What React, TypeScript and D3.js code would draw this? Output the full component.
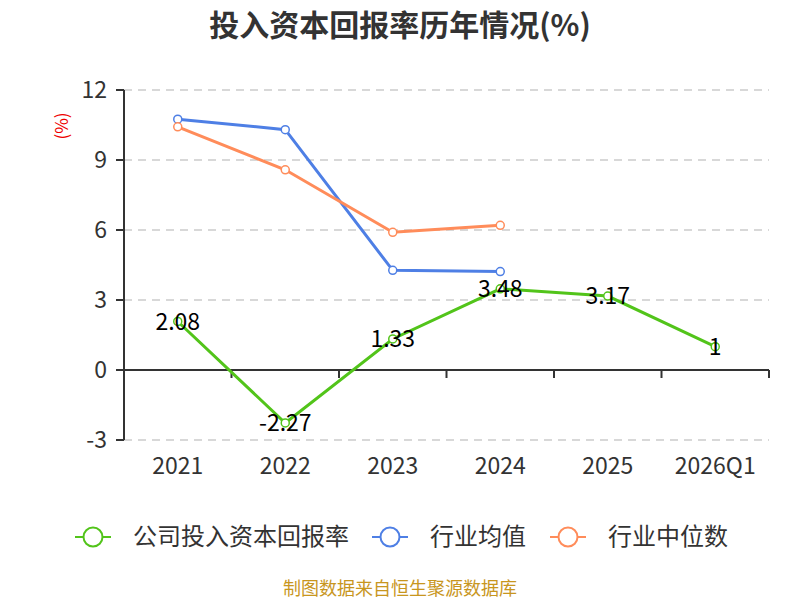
import React from "react";
import * as d3 from "d3";

const categories = ["2021", "2022", "2023", "2024", "2025", "2026Q1"];
const companyValues = [2.08, -2.27, 1.33, 3.48, 3.17, 1];
const industryAvg = [10.75, 10.3, 4.27, 4.22];
const industryMedian = [10.42, 8.58, 5.9, 6.2];
const yTicks = [-3, 0, 3, 6, 9, 12];

const seriesNames = ["公司投入资本回报率", "行业均值", "行业中位数"];
const colors = ["#52c41a", "#4e7fe5", "#ff8c5a"];

const FONT = "'Noto Sans CJK SC', 'Noto Sans', sans-serif";

const margin = { top: 90, left: 124, right: 31, bottom: 160 };
const W = 800;
const H = 600;

export default function App() {
  const x = d3
    .scaleBand<string>()
    .domain(categories)
    .range([margin.left, W - margin.right]);
  const y = d3.scaleLinear().domain([-3, 12]).range([H - margin.bottom, margin.top]);
  const cx = (c: string) => (x(c) as number) + x.bandwidth() / 2;

  const line = d3
    .line<[string, number]>()
    .x((d) => cx(d[0]))
    .y((d) => y(d[1]));

  const series = [companyValues, industryAvg, industryMedian].map((vals) =>
    vals.map((v, i) => [categories[i], v] as [string, number])
  );

  const boundaries = categories.map((c) => x(c) as number).concat([W - margin.right]);

  const legendX = [75, 372, 550];

  return (
    <svg width={W} height={H} style={{ position: "absolute", left: 0, top: 0 }} fontFamily={FONT}>
      <rect width={W} height={H} fill="#fff" />
      <text x={400} y={36} textAnchor="middle" fontSize={30} fontWeight="bold" fill="#333">
        投入资本回报率历年情况(%)
      </text>
      <text
        transform={`translate(68,126) rotate(-90)`}
        textAnchor="middle"
        fontSize={17}
        fill="#e00"
      >
        (%)
      </text>

      {yTicks.map((t) => (
        <g key={t}>
          {t !== 0 && (
            <line
              x1={margin.left}
              x2={W - margin.right}
              y1={y(t)}
              y2={y(t)}
              stroke="#ccc"
              strokeDasharray="8,6"
              strokeWidth={1.5}
            />
          )}
          <line x1={margin.left - 8} x2={margin.left} y1={y(t)} y2={y(t)} stroke="#333" strokeWidth={2} />
          <text x={margin.left - 17} y={y(t)} dy="0.35em" textAnchor="end" fontSize={23} fill="#333">
            {t}
          </text>
        </g>
      ))}

      <line x1={margin.left} x2={margin.left} y1={y(12)} y2={y(-3)} stroke="#333" strokeWidth={2} />
      <line x1={margin.left} x2={W - margin.right} y1={y(0)} y2={y(0)} stroke="#333" strokeWidth={2} />
      {boundaries.map((b, i) => (
        <line key={i} x1={b} x2={b} y1={y(0)} y2={y(0) + 8} stroke="#333" strokeWidth={2} />
      ))}
      {categories.map((c) => (
        <text key={c} x={cx(c)} y={y(-3) + 34} textAnchor="middle" fontSize={23} fill="#333">
          {c}
        </text>
      ))}

      {series.map((s, i) => (
        <g key={i}>
          <path d={line(s) as string} fill="none" stroke={colors[i]} strokeWidth={3} />
          {s.map((d) => (
            <circle key={d[0]} cx={cx(d[0])} cy={y(d[1])} r={4} fill="#fff" stroke={colors[i]} strokeWidth={1.5} />
          ))}
        </g>
      ))}

      {series[0].map((d) => (
        <text key={d[0]} x={cx(d[0])} y={y(d[1])} dy="0.35em" textAnchor="middle" fontSize={23} fill="#000">
          {d[1]}
        </text>
      ))}

      {seriesNames.map((n, i) => (
        <g key={n} transform={`translate(${legendX[i]},537)`}>
          <line x1={0} x2={36} y1={0} y2={0} stroke={colors[i]} strokeWidth={2} />
          <circle cx={18} cy={0} r={9.5} fill="#fff" stroke={colors[i]} strokeWidth={2} />
          <text x={58} y={0} dy="0.35em" fontSize={24} fill="#333">
            {n}
          </text>
        </g>
      ))}

      <text x={400} y={589} dy="0.35em" textAnchor="middle" fontSize={18} fill="#c8961e">
        制图数据来自恒生聚源数据库
      </text>
    </svg>
  );
}
